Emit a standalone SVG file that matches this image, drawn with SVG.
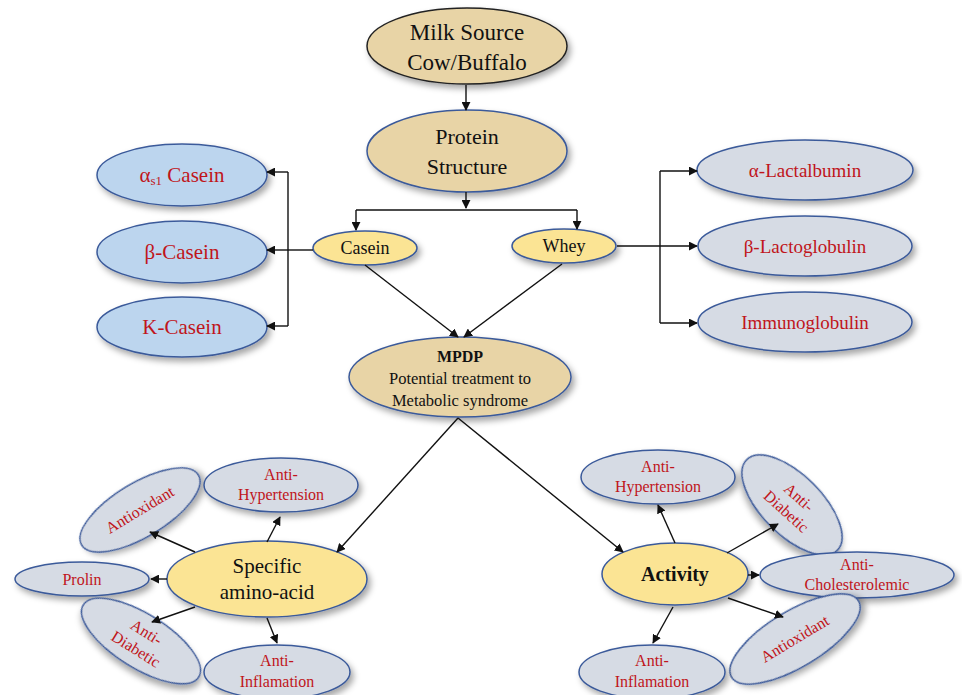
<svg xmlns="http://www.w3.org/2000/svg" width="962" height="695" viewBox="0 0 962 695">
<defs>
<filter id="sh" x="-20%" y="-30%" width="150%" height="170%">
<feDropShadow dx="3" dy="4" stdDeviation="3" flood-color="#000" flood-opacity="0.35"/>
</filter>
<marker id="ah" viewBox="0 0 10 10" refX="9" refY="5" markerWidth="9" markerHeight="9" markerUnits="userSpaceOnUse" orient="auto">
<path d="M0,0 L10,5 L0,10 z" fill="#111"/>
</marker>
</defs>
<style>
.tan{fill:#e8d4a6;stroke:#3b5a9a;stroke-width:1.5;filter:url(#sh)}
.yel{fill:#fbe494;stroke:#3b5a9a;stroke-width:1.5;filter:url(#sh)}
.blu{fill:#bcd5ee;stroke:#3b5a9a;stroke-width:1.5;filter:url(#sh)}
.gry{fill:#d6dbe4;stroke:#3b5a9a;stroke-width:1.5;filter:url(#sh)}
text{font-family:"Liberation Serif","Times New Roman",serif;text-anchor:middle}
.k{fill:#111}
.r{fill:#c0151b}
.c line,.c path{stroke:#111;stroke-width:1.4;fill:none}
.c .a{marker-end:url(#ah)}
</style>
<rect width="962" height="695" fill="#fff"/>

<g id="milk"><ellipse class="tan" cx="467" cy="46" rx="100" ry="38" style="stroke:#222"/>
<text class="k" x="467" y="40" font-size="23">Milk Source</text>
<text class="k" x="467" y="70" font-size="23">Cow/Buffalo</text></g>

<g id="protein"><ellipse class="tan" cx="467" cy="151" rx="100" ry="41"/>
<text class="k" x="467" y="144" font-size="22">Protein</text>
<text class="k" x="467" y="174" font-size="22">Structure</text></g>

<g id="casein"><ellipse class="yel" cx="365" cy="248" rx="52" ry="17"/>
<text class="k" x="365" y="254" font-size="18">Casein</text></g>

<g id="whey"><ellipse class="yel" cx="564" cy="246" rx="52" ry="17"/>
<text class="k" x="564" y="252" font-size="18">Whey</text></g>

<g id="as1"><ellipse class="blu" cx="182" cy="175" rx="85" ry="31"/>
<text class="r" x="182" y="182" font-size="21">α<tspan font-size="13" dy="3">s1</tspan><tspan dy="-3"> Casein</tspan></text></g>

<g id="bcasein"><ellipse class="blu" cx="182" cy="252" rx="85" ry="31"/>
<text class="r" x="182" y="259" font-size="21">β-Casein</text></g>

<g id="kcasein"><ellipse class="blu" cx="182" cy="327" rx="85" ry="30"/>
<text class="r" x="182" y="334" font-size="21">K-Casein</text></g>

<g id="alac"><ellipse class="gry" cx="805" cy="170" rx="108" ry="30"/>
<text class="r" x="805" y="177" font-size="19">α-Lactalbumin</text></g>

<g id="blac"><ellipse class="gry" cx="805" cy="246" rx="107" ry="30"/>
<text class="r" x="805" y="253" font-size="19">β-Lactoglobulin</text></g>

<g id="immuno"><ellipse class="gry" cx="805" cy="322" rx="107" ry="30"/>
<text class="r" x="805" y="329" font-size="19">Immunoglobulin</text></g>

<g id="mpdp"><ellipse class="tan" cx="460" cy="377" rx="111" ry="40"/>
<text class="k" x="460" y="362" font-size="16" font-weight="bold">MPDP</text>
<text class="k" x="460" y="384" font-size="16.5">Potential treatment to</text>
<text class="k" x="460" y="406" font-size="16.5">Metabolic syndrome</text></g>

<g id="specific"><ellipse class="yel" cx="267" cy="579" rx="100" ry="38"/>
<text class="k" x="267" y="573" font-size="21">Specific</text>
<text class="k" x="267" y="599" font-size="21">amino-acid</text></g>

<g id="activity"><ellipse class="yel" cx="675" cy="574" rx="73" ry="31"/>
<text class="k" x="675" y="581" font-size="20" font-weight="bold">Activity</text></g>

<g id="l-antiox"><ellipse class="gry" cx="140" cy="510" rx="68" ry="27" transform="rotate(-31 140 510)"/>
<text class="r" x="140" y="515" font-size="16" transform="rotate(-31 140 510)">Antioxidant</text></g>

<g id="l-hyper"><ellipse class="gry" cx="281" cy="485" rx="77" ry="27"/>
<text class="r" x="281" y="480" font-size="16">Anti-</text>
<text class="r" x="281" y="500" font-size="16">Hypertension</text></g>

<g id="prolin"><ellipse class="gry" cx="82" cy="579" rx="67" ry="17"/>
<text class="r" x="82" y="585" font-size="16">Prolin</text></g>

<g id="l-diab"><ellipse class="gry" cx="141" cy="641" rx="68" ry="27" transform="rotate(32 141 641)"/>
<text class="r" x="141" y="636" font-size="16" transform="rotate(32 141 641)">Anti-</text>
<text class="r" x="141" y="656" font-size="16" transform="rotate(32 141 641)">Diabetic</text></g>

<g id="l-inflam"><ellipse class="gry" cx="277" cy="672" rx="73" ry="27"/>
<text class="r" x="277" y="666" font-size="16">Anti-</text>
<text class="r" x="277" y="687" font-size="16">Inflamation</text></g>

<g id="r-hyper"><ellipse class="gry" cx="658" cy="477" rx="77" ry="27"/>
<text class="r" x="658" y="472" font-size="16">Anti-</text>
<text class="r" x="658" y="492" font-size="16">Hypertension</text></g>

<g id="r-diab"><ellipse class="gry" cx="792" cy="505" rx="64" ry="30" transform="rotate(45 792 505)"/>
<text class="r" x="792" y="500" font-size="16" transform="rotate(42 792 505)">Anti-</text>
<text class="r" x="792" y="519" font-size="16" transform="rotate(42 792 505)">Diabetic</text></g>

<g id="chol"><ellipse class="gry" cx="857" cy="575" rx="97" ry="23"/>
<text class="r" x="857" y="570" font-size="16">Anti-</text>
<text class="r" x="857" y="590" font-size="16">Cholesterolemic</text></g>

<g id="r-antiox"><ellipse class="gry" cx="795" cy="639" rx="74" ry="28" transform="rotate(-31 795 639)"/>
<text class="r" x="795" y="644" font-size="16" transform="rotate(-31 795 639)">Antioxidant</text></g>

<g id="r-inflam"><ellipse class="gry" cx="652" cy="672" rx="73" ry="27"/>
<text class="r" x="652" y="666" font-size="16">Anti-</text>
<text class="r" x="652" y="687" font-size="16">Inflamation</text></g>

<g class="c" id="connectors">
<line class="a" x1="466" y1="85" x2="466" y2="110"/>
<line class="a" x1="466" y1="192" x2="466" y2="208"/>
<path d="M356,210 H577"/>
<line class="a" x1="356" y1="210" x2="356" y2="230"/>
<line class="a" x1="577" y1="210" x2="577" y2="229"/>
<line x1="313" y1="250" x2="288" y2="250"/>
<path d="M288,172 V326"/>
<line class="a" x1="288" y1="172" x2="267" y2="172"/>
<line class="a" x1="288" y1="250" x2="267" y2="250"/>
<line class="a" x1="288" y1="326" x2="267" y2="326"/>
<line x1="617" y1="246" x2="660" y2="246"/>
<path d="M660,171 V323"/>
<line class="a" x1="660" y1="171" x2="697" y2="171"/>
<line class="a" x1="660" y1="246" x2="697" y2="246"/>
<line class="a" x1="660" y1="323" x2="697" y2="323"/>
<line class="a" x1="365" y1="265" x2="458" y2="337"/>
<line class="a" x1="562" y1="264" x2="464" y2="337"/>
<line class="a" x1="458" y1="418" x2="337" y2="552"/>
<line class="a" x1="458" y1="418" x2="623" y2="552"/>
<line class="a" x1="195" y1="552" x2="150" y2="532"/>
<line class="a" x1="267" y1="542" x2="280" y2="517"/>
<line class="a" x1="167" y1="579" x2="151" y2="579"/>
<line class="a" x1="195" y1="607" x2="152" y2="622"/>
<line class="a" x1="267" y1="618" x2="277" y2="643"/>
<line class="a" x1="675" y1="543" x2="658" y2="505"/>
<line class="a" x1="727" y1="553" x2="778" y2="524"/>
<line class="a" x1="748" y1="575" x2="759" y2="575"/>
<line class="a" x1="728" y1="598" x2="783" y2="617"/>
<line class="a" x1="673" y1="607" x2="653" y2="643"/>
</g>
</svg>
